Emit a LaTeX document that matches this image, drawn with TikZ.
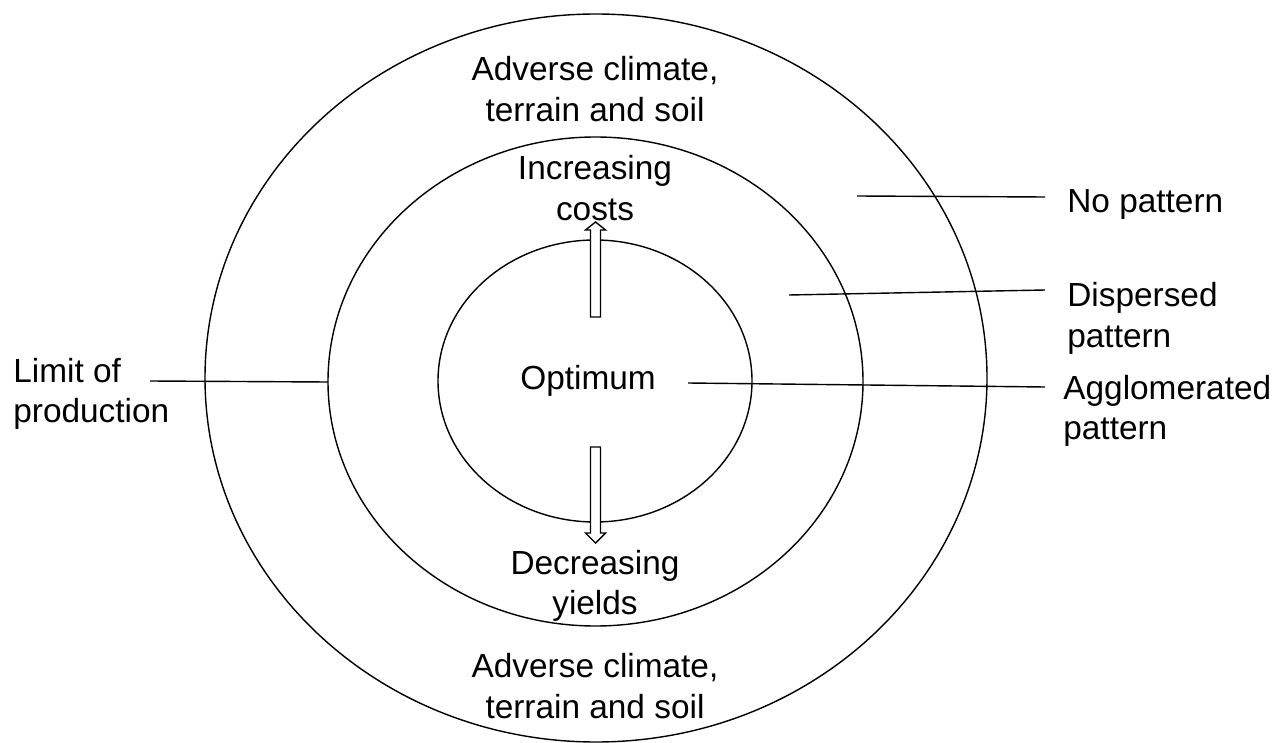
\documentclass[tikz,border=0pt]{standalone}
\usepackage{fontspec}
\setmainfont{Liberation Sans}
\usetikzlibrary{positioning}

\begin{document}
\begin{tikzpicture}[x=0.02cm,y=-0.02cm,
  lbl/.style={font=\fontsize{19pt}{23pt}\selectfont,align=center,inner sep=0pt},
  sidelbl/.style={lbl,align=left,anchor=west},
  ring/.style={line width=0.8pt},
  leader/.style={line width=0.8pt},
  hollowarrow/.style={line width=0.8pt,fill=white}]
  \useasboundingbox (0,0) rectangle (1278,743); % 全体の大きさ

  \draw[ring] (596,378) ellipse [x radius=391,y radius=364]; % 外側の楕円
  \draw[ring] (595.5,381.5) ellipse [x radius=267.5,y radius=244.5]; % 中間の楕円
  \draw[ring] (595,381) ellipse [x radius=157,y radius=141]; % 内側の楕円

  % 上向きの中抜き矢印（費用の増加）
  \draw[hollowarrow] (590.5,317) -- (590.5,230) -- (585.5,230) -- (595.5,222)
    -- (605.5,230) -- (600.5,230) -- (600.5,317) -- cycle;
  % 下向きの中抜き矢印（収量の減少）
  \draw[hollowarrow] (590.5,447) -- (590.5,533) -- (585.5,533) -- (595.5,543)
    -- (605.5,533) -- (600.5,533) -- (600.5,447) -- cycle;

  \node[lbl] (advtop) at (595,89) {Adverse climate,\\terrain and soil}; % 外側の帯（上）
  \node[lbl] (costs) at (595,188) {Increasing\\costs};
  \node[lbl] (optimum) at (588,381) {Optimum}; % 中心
  \node[lbl] (yields) at (595,586) {Decreasing\\yields};
  \node[lbl] (advbot) at (595,686) {Adverse climate,\\terrain and soil}; % 外側の帯（下）

  % 右側と左側の説明ラベル
  \node[sidelbl] (nopat) at (1067,204.5) {No pattern};
  \node[sidelbl] (dispat) at (1067,318.5) {Dispersed\\pattern};
  \node[sidelbl] (aggpat) at (1063,411) {Agglomerated\\pattern};
  \node[sidelbl] (limit) at (13,394) {Limit of\\production};

  % 引き出し線の端点
  \coordinate (nopat-in) at (857,196);
  \coordinate (nopat-out) at (1045,197);
  \coordinate (dispat-in) at (789,295);
  \coordinate (dispat-out) at (1045,290);
  \coordinate (aggpat-in) at (688,383);
  \coordinate (aggpat-out) at (1045,387);
  \coordinate (limit-out) at (150,381);
  \coordinate (limit-in) at (328,382);

  \draw[leader] (nopat-in) -- (nopat-out);
  \draw[leader] (dispat-in) -- (dispat-out);
  \draw[leader] (aggpat-in) -- (aggpat-out);
  \draw[leader] (limit-out) -- (limit-in); % 中間の楕円まで
\end{tikzpicture}
\end{document}
